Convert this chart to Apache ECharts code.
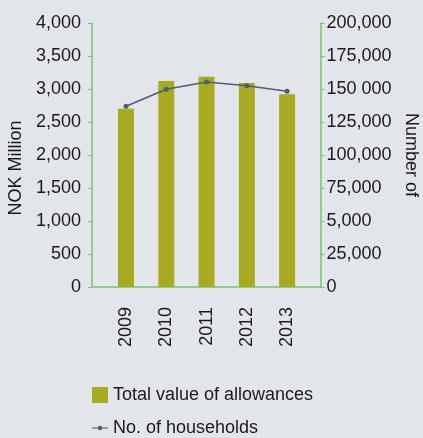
<!DOCTYPE html>
<html><head><meta charset="utf-8">
<script src="https://cdn.jsdelivr.net/npm/echarts@6/dist/echarts.min.js"></script>
<style>html,body{margin:0;padding:0;background:#e2e5e9;}#c{width:423px;height:438px;}</style>
</head><body><div id="c"></div>
<script>
var years = ['2009','2010','2011','2012','2013'];
var allowances = [2700, 3120, 3185, 3090, 2920];
var households = [136900, 149800, 155300, 152500, 148300];
var leftTickLabels = ['0','500','1,000','1,500','2,000','2,500','3,000','3,500','4,000'];
var rightTickLabels = ['0','25,000','5,000','75,000','100,000','125,000','150 000','175,000','200,000'];
var leftName = 'NOK Million';
var rightName = 'Number of';
var seriesNames = ['Total value of allowances','No. of households'];

var font = 'Liberation Sans, Arial, sans-serif';
var green = '#76c36c';
var txt = '#1a1a1a';
var lineColor = '#4b5f72';
var chart = echarts.init(document.getElementById('c'), null, {renderer:'canvas'});
var xIdx = years.map(function(_, i){ return i; });
chart.setOption({
  backgroundColor: '#e2e5e9',
  animation: false,
  textStyle: {fontFamily: font},
  grid: {left: 92, right: 102.5, top: 23, bottom: 151, containLabel: false},
  xAxis: {
    type: 'value', min: -0.845, max: 4.83,
    axisLine: {show: true, onZero: false, lineStyle: {color: green, width: 1.5}},
    axisTick: {show: false},
    splitLine: {show: false},
    axisLabel: {
      customValues: xIdx, rotate: 90, margin: 20,
      fontSize: 18, color: txt, fontFamily: font,
      formatter: function(v){ return years[Math.round(v)]; }
    }
  },
  yAxis: [{
    type: 'value', min: 0, max: 4000, interval: 500, position: 'left',
    axisLine: {show: true, onZero: false, lineStyle: {color: green, width: 1.5}},
    axisTick: {show: true, inside: false, length: 4, lineStyle: {color: green}},
    splitLine: {show: false},
    axisLabel: {margin: 11, fontSize: 18, color: txt, fontFamily: font,
      formatter: function(v){ return leftTickLabels[Math.round(v/500)]; }}
  },{
    type: 'value', min: 0, max: 200000, interval: 25000, position: 'right',
    axisLine: {show: true, onZero: false, lineStyle: {color: green, width: 1.5}},
    axisTick: {show: true, inside: false, length: 4, lineStyle: {color: green}},
    splitLine: {show: false},
    axisLabel: {margin: 6, fontSize: 18, color: txt, fontFamily: font,
      formatter: function(v){ return rightTickLabels[Math.round(v/25000)]; }}
  }],
  legend: [{
    left: 92, top: 386, padding: 0, itemWidth: 16, itemHeight: 16,
    textStyle: {fontSize: 18, color: txt, fontFamily: font},
    data: [{name: seriesNames[0], icon: 'rect'}]
  },{
    left: 92, top: 419, padding: 0, itemWidth: 16, itemHeight: 5,
    textStyle: {fontSize: 18, color: txt, fontFamily: font},
    data: [{name: seriesNames[1], icon: 'path://M0,2 L16,2 L16,3 L0,3 Z M10.2,2.5 A2.2,2.2 0 1 1 5.8,2.5 A2.2,2.2 0 1 1 10.2,2.5 Z'}]
  }],
  graphic: [
    {type: 'text', x: 16, y: 168, rotation: Math.PI/2, style: {text: leftName, font: '18px ' + font, fill: txt, align: 'center', verticalAlign: 'middle'}},
    {type: 'text', x: 411, y: 155, rotation: -Math.PI/2, style: {text: rightName, font: '18px ' + font, fill: txt, align: 'center', verticalAlign: 'middle'}}
  ],
  series: [{
    name: seriesNames[0], type: 'bar', yAxisIndex: 0, barWidth: 16,
    itemStyle: {color: '#a8ab22'},
    data: allowances.map(function(v, i){ return [i, v]; })
  },{
    name: seriesNames[1], type: 'line', yAxisIndex: 1,
    symbol: 'circle', symbolSize: 5,
    lineStyle: {color: lineColor, width: 1.5},
    itemStyle: {color: lineColor},
    data: households.map(function(v, i){ return [i, v]; })
  }]
});
</script></body></html>
